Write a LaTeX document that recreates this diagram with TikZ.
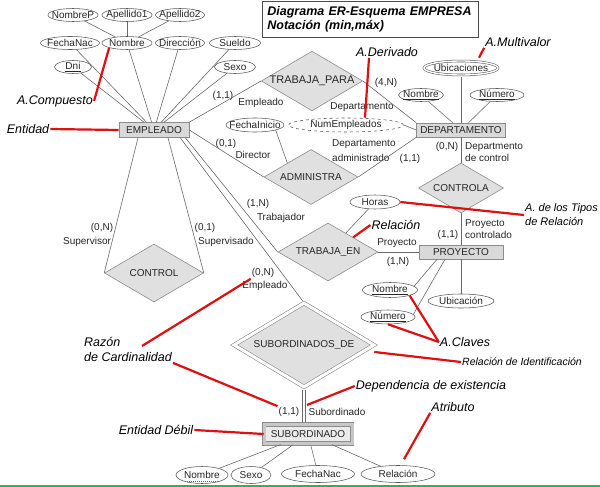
\documentclass[tikz,border=0pt]{standalone}
\usepackage{fontspec}
\setmainfont{Liberation Sans}
\usetikzlibrary{shapes.geometric}
\definecolor{rojo}{RGB}{222,16,16}
\definecolor{verde}{RGB}{40,180,90}
\definecolor{linea}{RGB}{105,105,105}

\begin{document}
\begin{tikzpicture}[
  x=1pt, y=-1pt,
  every node/.style={font=\fontsize{10}{12}\selectfont, text=black!85, inner sep=1pt},
  entidad/.style={draw=black!45, fill=black!15, line width=0.6pt, inner sep=0pt, minimum height=15pt},
  relacion/.style={draw=black!45, fill=black!12, line width=0.6pt, diamond, aspect=1.7, inner sep=0pt},
  atributo/.style={draw=black!65, fill=white, line width=0.55pt, ellipse, inner xsep=-6pt, inner ysep=-1pt, minimum height=13pt},
  rol/.style={align=left, anchor=west, font=\fontsize{10}{12}\selectfont},
  conn/.style={draw=linea, line width=0.6pt},
  nota/.style={font=\fontsize{12.5}{15}\selectfont\itshape, text=black},
  marca/.style={draw=rojo, line width=2.2pt}
  ]

\path[fill=white, use as bounding box] (0,0) rectangle (600,487);

% 제목
\node[draw=black!70, line width=0.8pt, anchor=north west, minimum width=216pt, minimum height=32pt,
  text width=206pt, inner sep=5pt, align=left, text=black,
  font=\fontsize{12.5}{14}\selectfont\bfseries\itshape] (tit) at (262,1)
  {Diagrama ER-Esquema EMPRESA\\Notación (min,máx)};

% 엔티티
\node[entidad, minimum width=70pt] (emp) at (154,130) {EMPLEADO};
\node[entidad, minimum width=89pt, minimum height=14pt] (dep) at (461,130) {DEPARTAMENTO};
\node[entidad, minimum width=84pt, minimum height=14pt] (proy) at (461,252) {PROYECTO};
\node[entidad, minimum width=88pt, minimum height=19pt, fill=black!8, double=black!22, double distance=3pt] (sub) at (308,434) {SUBORDINADO};

% 관계
\node[relacion, minimum width=97pt, minimum height=58pt, font=\fontsize{11}{13}\selectfont] (tp) at (312,81) {TRABAJA\_PARA};
\node[relacion, minimum width=94pt, minimum height=55pt] (adm) at (311,177) {ADMINISTRA};
\node[relacion, minimum width=85pt, minimum height=50pt] (ctrla) at (461,188) {CONTROLA};
\node[relacion, minimum width=100pt, minimum height=58pt] (ten) at (328,252) {TRABAJA\_EN};
\node[relacion, minimum width=99pt, minimum height=58pt] (ctrl) at (154,273) {CONTROL};
\node[relacion, minimum width=140pt, minimum height=84pt, double=white, double distance=3pt] (sdep) at (304,345) {SUBORDINADOS\_DE};

% 속성
\node[atributo, minimum width=50pt] (nombrep) at (73,15) {NombreP};
\node[atributo, minimum width=50pt] (ape1) at (127,15) {Apellido1};
\node[atributo, minimum width=49pt] (ape2) at (180,15) {Apellido2};
\node[atributo, minimum width=59pt] (fnac) at (70,43) {FechaNac};
\node[atributo, minimum width=50pt] (nombre) at (127,43) {Nombre};
\node[atributo, minimum width=49pt] (dir) at (180,43) {Dirección};
\node[atributo, minimum width=51pt] (sueldo) at (235,43) {Sueldo};
\node[atributo, minimum width=37pt] (dni) at (73,67) {\underline{Dni}};
\node[atributo, minimum width=41pt] (sexo) at (235,67) {Sexo};
\node[atributo, minimum width=58pt, minimum height=14pt] (fini) at (255,125) {FechaInicio};
\node[atributo, minimum width=115pt, minimum height=14pt, dashed] (nument) at (346,125) {NumEmpleados};
\node[atributo, minimum width=74pt, minimum height=14pt, double=white, double distance=1.4pt] (ubic) at (461,68) {Ubicaciones};
\node[atributo, minimum width=45pt] (dnom) at (421,95) {\underline{Nombre}};
\node[atributo, minimum width=54pt] (dnum) at (497,95) {\underline{Número}};
\node[atributo, minimum width=50pt, minimum height=14pt] (horas) at (375,202) {Horas};
\node[atributo, minimum width=55pt, minimum height=15pt] (pnom) at (390,290) {\underline{Nombre}};
\node[atributo, minimum width=54pt, minimum height=14pt] (pnum) at (388,317) {\underline{Número}};
\node[atributo, minimum width=66pt, minimum height=14pt] (ubicn) at (461,301) {Ubicación};
\node[atributo, minimum width=52pt, minimum height=17pt] (snom) at (202,475) {Nombre};
\node[atributo, minimum width=40pt, minimum height=17pt] (ssexo) at (251,475) {Sexo};
\node[atributo, minimum width=73pt, minimum height=17pt] (sfnac) at (318,474) {FechaNac};
\node[atributo, minimum width=74pt, minimum height=17pt] (srel) at (398,474) {Relación};
\draw[black!60, dash pattern=on 1pt off 1pt] ([xshift=-17pt,yshift=-2.5pt]snom.base) -- ([xshift=17pt,yshift=-2.5pt]snom.base);

% 카디널리티, 역할
\node (card1) at (223,96) {(1,1)};
\node (rol1) at (261,103) {Empleado};
\node (card2) at (386,83) {(4,N)};
\node (rol2) at (362,107) {Departamento};
\node (card3) at (226,144) {(0,1)};
\node (rol3) at (253,155) {Director};
\node[rol, font=\fontsize{10}{15}\selectfont] (rol4) at (331,150.5) {Departamento\\administrado};
\node (card4) at (410,159) {(1,1)};
\node (card5) at (447,147) {(0,N)};
\node[rol] (rol5) at (464,152.5) {Departmento\\de control};
\node (card6) at (448,235) {(1,1)};
\node[rol] (rol6) at (464,229) {Proyecto\\controlado};
\node (card7) at (258,204) {(1,N)};
\node (rol7) at (281,218) {Trabajador};
\node (rol8) at (397,243) {Proyecto};
\node (card8) at (398,262) {(1,N)};
\node (card9) at (102,228) {(0,N)};
\node (rol9) at (87,242) {Supervisor};
\node (card10) at (205,228) {(0,1)};
\node (rol10) at (226,242) {Supervisado};
\node (card11) at (263,273) {(0,N)};
\node (rol11) at (265,286) {Empleado};
\node (card12) at (289,412) {(1,1)};
\node (rol12) at (337,412) {Subordinado};

% 연결선
\draw[conn] (nombrep) -- (nombre);
\draw[conn] (ape1) -- (nombre);
\draw[conn] (ape2) -- (nombre);
\draw[conn] (fnac) -- (emp);
\draw[conn] (nombre) -- (emp);
\draw[conn] (dir) -- (emp);
\draw[conn] (sueldo) -- (emp);
\draw[conn] (dni) -- (emp);
\draw[conn] (sexo) -- (emp);
\draw[conn] (emp.north east) -- (tp.west);
\draw[conn] (tp.east) -- (dep.north west);
\draw[conn] (nument.east) -- (dep.west);
\draw[conn] (dnom) -- (dep);
\draw[conn] (dnum) -- (dep);
\draw[conn, shorten <=1.4pt] (ubic) -- (dep);
\draw[conn] (emp.east) -- (adm.west);
\draw[conn] (fini.south east) -- (adm.north west);
\draw[conn] (adm.east) -- (dep.south west);
\draw[conn] (dep) -- (ctrla);
\draw[conn] (ctrla) -- (proy);
\draw[conn] (horas) -- (ten);
\draw[conn] ([xshift=-4pt]emp.south east) -- (ten.west);
\draw[conn] (ten) -- (proy);
\draw[conn] ([xshift=-24pt]proy.south) -- (pnom.9);
\draw[conn] ([xshift=-16pt]proy.south) -- (pnum.6);
\draw[conn] (proy) -- (ubicn);
\draw[conn] ([xshift=-16pt]emp.south) -- (ctrl.west);
\draw[conn] ([xshift=14pt]emp.south) -- (ctrl.east);
\draw[conn, shorten >=2.4pt] ([xshift=-9pt]emp.south east) -- (sdep.north);
\draw[conn, double=white, double distance=2.5pt, shorten <=2.4pt, shorten >=2.2pt] (sdep.south) -- (sdep.south |- sub.north);
\draw[conn, shorten <=2.2pt] (sub) -- (snom);
\draw[conn, shorten <=2.2pt] (sub) -- (ssexo);
\draw[conn, shorten <=2.2pt] (sub) -- (sfnac);
\draw[conn, shorten <=2.2pt] (sub) -- (srel);

% 주석
\node[nota] (acomp) at (55,101) {A.Compuesto};
\node[nota] (ent) at (28,129) {Entidad};
\node[nota] (aderiv) at (387,52) {A.Derivado};
\node[nota] (amult) at (518,42) {A.Multivalor};
\node[nota, font=\fontsize{11}{14}\selectfont\itshape, align=left, anchor=west] (atipos) at (524,215) {A. de los Tipos\\de Relación};
\node[nota] (arel) at (396,225) {Relación};
\node[nota] (aclaves) at (465,342) {A.Claves};
\node[nota, align=left, anchor=west] (razon) at (83,349.5) {Razón\\de Cardinalidad};
\node[nota, font=\fontsize{10.5}{12}\selectfont\itshape] (rident) at (522,362) {Relación de Identificación};
\node[nota] (depex) at (431,386) {Dependencia de existencia};
\node[nota] (edeb) at (156,430) {Entidad Débil};
\node[nota] (atrib) at (453,407) {Atributo};
\coordinate (rz) at (142,346);
\coordinate (dx) at (307,405);

\draw[marca] (acomp.east) -- (nombre.south west);
\draw[marca] (ent.east) -- (emp.west);
\draw[marca] ([xshift=-18pt]aderiv.south) -- ([xshift=19pt]nument.north);
\draw[marca] (amult.south west) -- ([xshift=18pt,yshift=3pt]ubic.north);
\draw[marca] (horas.east) -- (atipos.west);
\draw[marca] (arel.west) -- (ten.north east);
\draw[marca] (aclaves.west) -- (pnom.south east);
\draw[marca] (aclaves.west) -- (pnum.south);
\draw[marca] (rz) -- (card11.south west);
\draw[marca] (razon.south east) -- (card12.north west);
\draw[marca] ([yshift=-7pt]sdep.east) -- (rident.west);
\draw[marca] (depex.west) -- (dx);
\draw[marca] (edeb.east) -- (sub.west);
\draw[marca] (atrib.south west) -- ([xshift=6pt,yshift=6pt]srel.north);

\draw[verde, line width=2pt] (0,485.5) -- (600,485.5);

\end{tikzpicture}
\end{document}
